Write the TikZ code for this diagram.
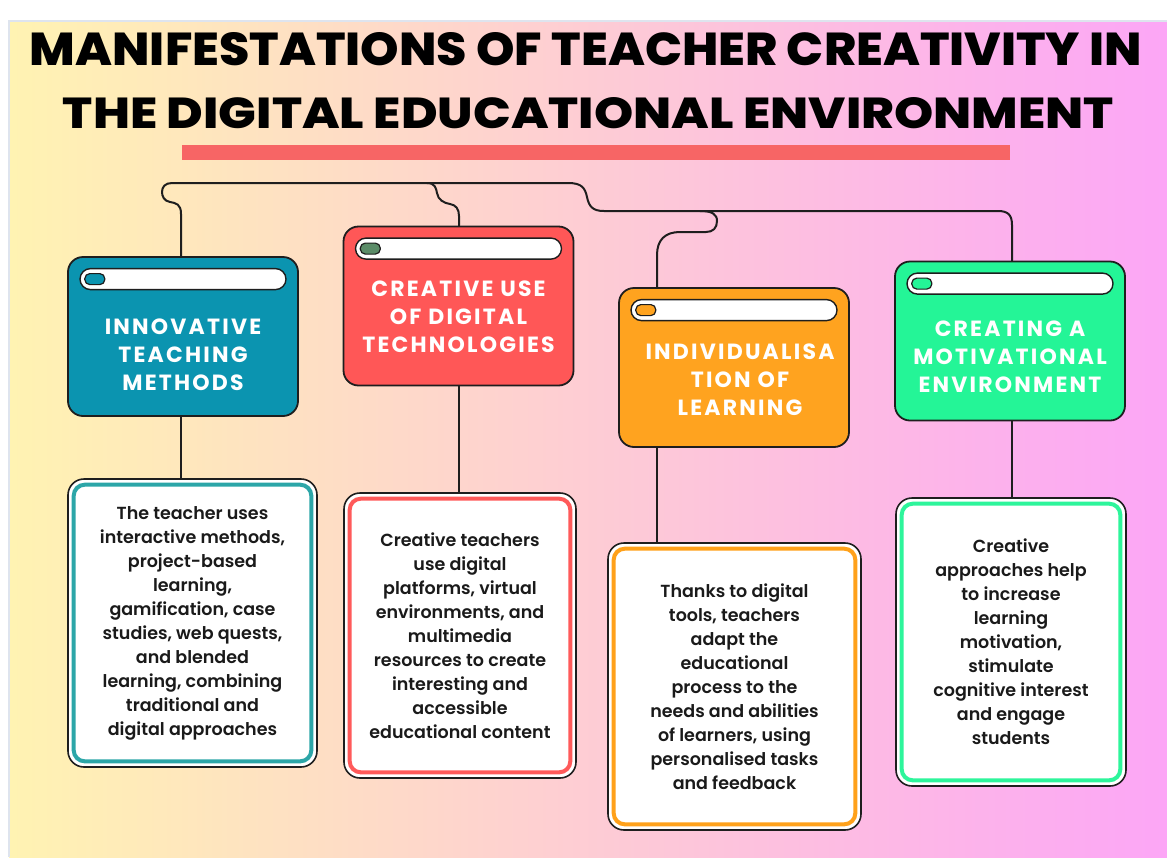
\documentclass[tikz,border=0pt]{standalone}
\usepackage{fontspec}
\setmainfont{Poppins}
\newfontfamily\headfont{Poppins}[LetterSpace=10]
\newfontfamily\bodyfont{Poppins SemiBold}
\newfontfamily\titlefont{Poppins ExtraBold}

\definecolor{ink}{HTML}{1E1E1E}
\definecolor{bodyink}{HTML}{1A1A1A}
\definecolor{bgleft}{RGB}{255,243,178}
\definecolor{bgmid}{RGB}{255,208,208}
\definecolor{bgright}{RGB}{252,166,246}
\definecolor{rulered}{HTML}{F76565}
\definecolor{cteal}{HTML}{0B94B0}
\definecolor{cred}{HTML}{FF5757}
\definecolor{corange}{HTML}{FFA31F}
\definecolor{cgreen}{HTML}{24F597}
\definecolor{pillgreen}{HTML}{5B8C68}
\definecolor{fteal}{HTML}{2CA6A8}
\definecolor{fred}{HTML}{FF5A5A}
\definecolor{forange}{HTML}{FFA11A}
\definecolor{fgreen}{HTML}{2DF59B}

\begin{document}
\begin{tikzpicture}[x=1pt,y=-1pt,
  hdrbox/.style={draw=ink, line width=1.8pt, rounded corners=15pt,
    minimum width=230pt, minimum height=159pt, inner sep=0pt},
  winbar/.style={draw=ink, line width=1.4pt, fill=white, rounded corners=10.5pt,
    minimum width=206pt, minimum height=21pt, inner sep=0pt},
  pill/.style={draw=ink, line width=1.2pt, rounded corners=5pt,
    minimum width=20pt, minimum height=11pt, inner sep=0pt},
  hdrtext/.style={text=white, align=center, inner sep=0pt,
    font=\headfont\bfseries\fontsize{22}{28}\selectfont},
  textbox/.style={draw=ink, line width=1.6pt, fill=white, rounded corners=16pt,
    inner sep=0pt, align=center, text=bodyink,
    font=\bodyfont\fontsize{17.5}{24}\selectfont},
  frame/.style={line width=4pt, rounded corners=11pt},
  link/.style={draw=ink, line width=2pt, line cap=round, line join=round}
]
\useasboundingbox (0,0) rectangle (1167,857);

% page and gradient backdrop
\fill[white] (0,0) rectangle (1167,857);
\fill[left color=bgleft, middle color=bgmid, right color=bgright]
  (9,21) rectangle (1167,857);
\draw[draw={rgb,255:red,222;green,228;blue,238}, line width=1.5pt]
  (9,857) -- (9,21) -- (1167,21);

% title
\node[anchor=base, inner sep=0pt] (title1) at (586,65)
  {\resizebox{1112pt}{33pt}{\titlefont MANIFESTATIONS OF TEACHER CREATIVITY IN}};
\node[anchor=base, inner sep=0pt] (title2) at (588.5,128)
  {\resizebox{1051pt}{31pt}{\titlefont THE DIGITAL EDUCATIONAL ENVIRONMENT}};
\node[fill=rulered, minimum width=828pt, minimum height=15pt, inner sep=0pt] (rule) at (596,152.5) {};

% header cards
\node[hdrbox, fill=cteal]   (h1) at (183,336.5) {};
\node[hdrbox, fill=cred]    (h2) at (458.5,306) {};
\node[hdrbox, fill=corange] (h3) at (734,367.5) {};
\node[hdrbox, fill=cgreen]  (h4) at (1010,341) {};

\foreach \h/\c in {h1/cteal, h2/pillgreen, h3/corange, h4/cgreen}{
  \node[winbar] (\h bar) at ([yshift=-23pt]\h.north) {};
  \node[pill, fill=\c] (\h pill) at ([xshift=15.5pt]\h bar.west) {};
}

\node[hdrtext] (h1t) at ([yshift=-18pt]h1.center) {INNOVATIVE\\TEACHING\\METHODS};
\node[hdrtext] (h2t) at ([yshift=-11pt]h2.center) {CREATIVE USE\\OF DIGITAL\\TECHNOLOGIES};
\node[hdrtext] (h3t) at ([xshift=6pt,yshift=-12.5pt]h3.center) {INDIVIDUALISA\\TION OF\\LEARNING};
\node[hdrtext] (h4t) at ([yshift=-16pt]h4.center) {CREATING A\\MOTIVATIONAL\\ENVIRONMENT};

% description cards
\node[textbox, minimum width=249pt, minimum height=288pt] (t1) at (192.5,623)
  {The teacher uses\\interactive methods,\\project-based\\learning,\\gamification, case\\studies, web quests,\\and blended\\learning, combining\\traditional and\\digital approaches};
\node[textbox, minimum width=232pt, minimum height=285pt] (t2) at (460,635.5)
  {Creative teachers\\use digital\\platforms, virtual\\environments, and\\multimedia\\resources to create\\interesting and\\accessible\\educational content};
\node[textbox, minimum width=253pt, minimum height=287pt] (t3) at (734.5,686.5)
  {Thanks to digital\\tools, teachers\\adapt the\\educational\\process to the\\needs and abilities\\of learners, using\\personalised tasks\\and feedback};
\node[textbox, minimum width=230pt, minimum height=288pt] (t4) at (1011,642)
  {Creative\\approaches help\\to increase\\learning\\motivation,\\stimulate\\cognitive interest\\and engage\\students};

\foreach \t/\c in {t1/fteal, t2/fred, t3/forange, t4/fgreen}{
  \draw[frame, draw=\c] ([xshift=6.5pt,yshift=-6.5pt]\t.north west)
    rectangle ([xshift=-6.5pt,yshift=6.5pt]\t.south east);
}

% connector network
\coordinate (j1) at (181,214);
\coordinate (j2) at (459,216);
\coordinate (j3) at (657,255);
\coordinate (j4) at (1012,225);

\draw[link] (j1 |- h1.north) -- (j1)
  .. controls (181,204) and (176,203) .. (170,202)
  .. controls (164,201) and (162,196) .. (162,192)
  .. controls (162,187) and (165,183) .. (172,183)
  -- (568,183)
  .. controls (582,183) and (585,188) .. (587,197)
  .. controls (589,206) and (592,211) .. (604,211)
  -- (998,211)
  .. controls (1008,211) and (1012,215) .. (j4)
  -- (j4 |- h4.north);

\draw[link] (427,183)
  .. controls (435,183) and (436,188) .. (437,193)
  .. controls (438,200) and (444,203) .. (450,204)
  .. controls (456,205) and (459,209) .. (j2)
  -- (j2 |- h2.north);

\draw[link] (700,211)
  .. controls (712,211) and (717,214) .. (717,221)
  .. controls (717,228) and (713,232) .. (706,232)
  -- (680,232)
  .. controls (665,232) and (657,240) .. (j3)
  -- (j3 |- h3.north);

% card-to-description links
\draw[link] (j1 |- h1.south) -- (j1 |- t1.north);
\draw[link] (j2 |- h2.south) -- (j2 |- t2.north);
\draw[link] (j3 |- h3.south) -- (j3 |- t3.north);
\draw[link] (j4 |- h4.south) -- (j4 |- t4.north);
\end{tikzpicture}
\end{document}
